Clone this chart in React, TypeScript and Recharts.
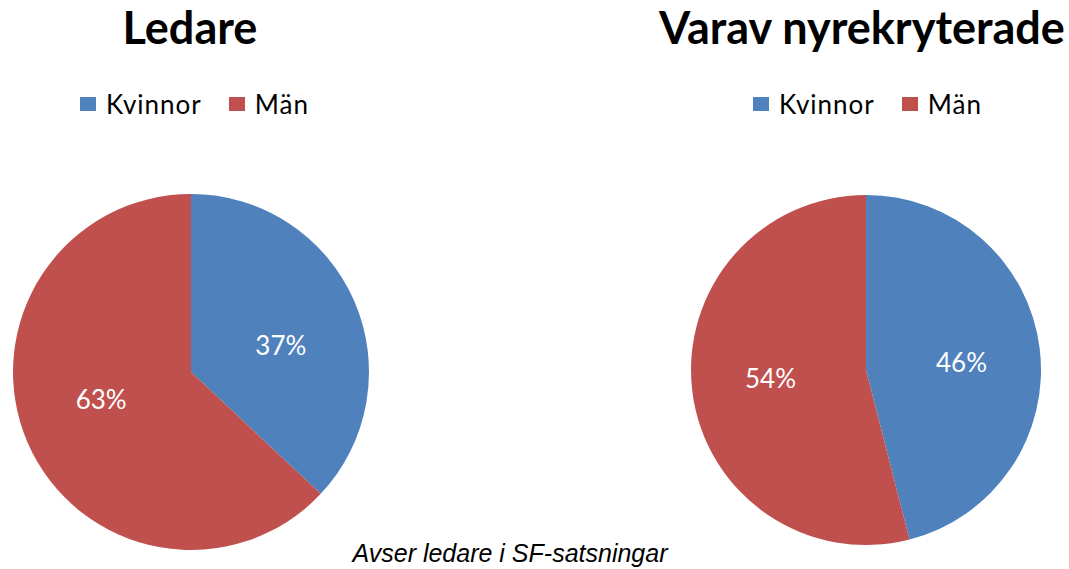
import { PieChart, Pie, Cell, Legend } from "recharts";

const categories = ["Kvinnor", "Män"];
const ledareValues = [37, 63];
const nyrekryteradeValues = [46, 54];
const colors = ["#4F81BD", "#C0504D"];

const RAD = Math.PI / 180;

// labels sit about halfway out, flattened a bit toward the horizontal like Excel does
function renderLabel(props: any) {
  const { cx, cy, midAngle, outerRadius, value } = props;
  const r = outerRadius * 0.55;
  const x = cx + r * Math.cos(-midAngle * RAD);
  const y = cy + 0.7 * r * Math.sin(-midAngle * RAD);
  return (
    <text
      x={x}
      y={y}
      fill="#ffffff"
      textAnchor="middle"
      dominantBaseline="central"
      fontFamily="Lato"
      fontSize={26}
    >
      {`${value}%`}
    </text>
  );
}

function LegendContent() {
  return (
    <div style={{ display: "flex", alignItems: "center", fontFamily: "Lato", fontSize: 26, color: "#000" }}>
      {categories.map((c, i) => (
        <div key={c} style={{ display: "flex", alignItems: "center", marginRight: 27 }}>
          <span style={{ display: "inline-block", width: 16, height: 14, background: colors[i], marginRight: 10 }} />
          <span style={{ letterSpacing: 1, lineHeight: "30px" }}>{c}</span>
        </div>
      ))}
    </div>
  );
}

interface GenderPieProps {
  values: number[];
  width: number;
  cx: number;
  cy: number;
  radius: number;
  legendLeft: number;
}

function GenderPie({ values, width, cx, cy, radius, legendLeft }: GenderPieProps) {
  const data = categories.map((name, i) => ({ name, value: values[i] }));
  return (
    <PieChart width={width} height={569} margin={{ top: 0, right: 0, bottom: 0, left: 0 }}>
      <Legend
        content={<LegendContent />}
        wrapperStyle={{ top: 89, left: legendLeft, width: 300 }}
      />
      <Pie
        data={data}
        dataKey="value"
        nameKey="name"
        cx={cx}
        cy={cy}
        outerRadius={radius}
        startAngle={90}
        endAngle={-270}
        stroke="none"
        label={renderLabel}
        labelLine={false}
        isAnimationActive={false}
      >
        {data.map((d, i) => (
          <Cell key={d.name} fill={colors[i]} />
        ))}
      </Pie>
    </PieChart>
  );
}

const titleStyle: React.CSSProperties = {
  position: "absolute",
  top: 5,
  fontFamily: "Lato",
  fontWeight: 700,
  fontSize: 45,
  lineHeight: "45px",
  color: "#000",
  textAlign: "center",
  whiteSpace: "nowrap",
};

export default function App() {
  return (
    <div style={{ position: "absolute", left: 0, top: 0, width: 1069, height: 569, background: "#fff", overflow: "hidden" }}>
      <div style={{ position: "absolute", left: 0, top: 0 }}>
        <GenderPie values={ledareValues} width={534} cx={191} cy={372} radius={178} legendLeft={80} />
      </div>
      <div style={{ position: "absolute", left: 534, top: 0 }}>
        <GenderPie values={nyrekryteradeValues} width={535} cx={332} cy={370} radius={175} legendLeft={219} />
      </div>
      <div style={{ ...titleStyle, left: 40, width: 300 }}>Ledare</div>
      <div style={{ ...titleStyle, left: 612, width: 500 }}>Varav nyrekryterade</div>
      <div
        style={{
          position: "absolute",
          left: 310,
          width: 400,
          top: 541,
          textAlign: "center",
          fontFamily: "Liberation Sans",
          fontStyle: "italic",
          fontSize: 25,
          lineHeight: "25px",
          color: "#000",
        }}
      >
        Avser ledare i SF-satsningar
      </div>
    </div>
  );
}
